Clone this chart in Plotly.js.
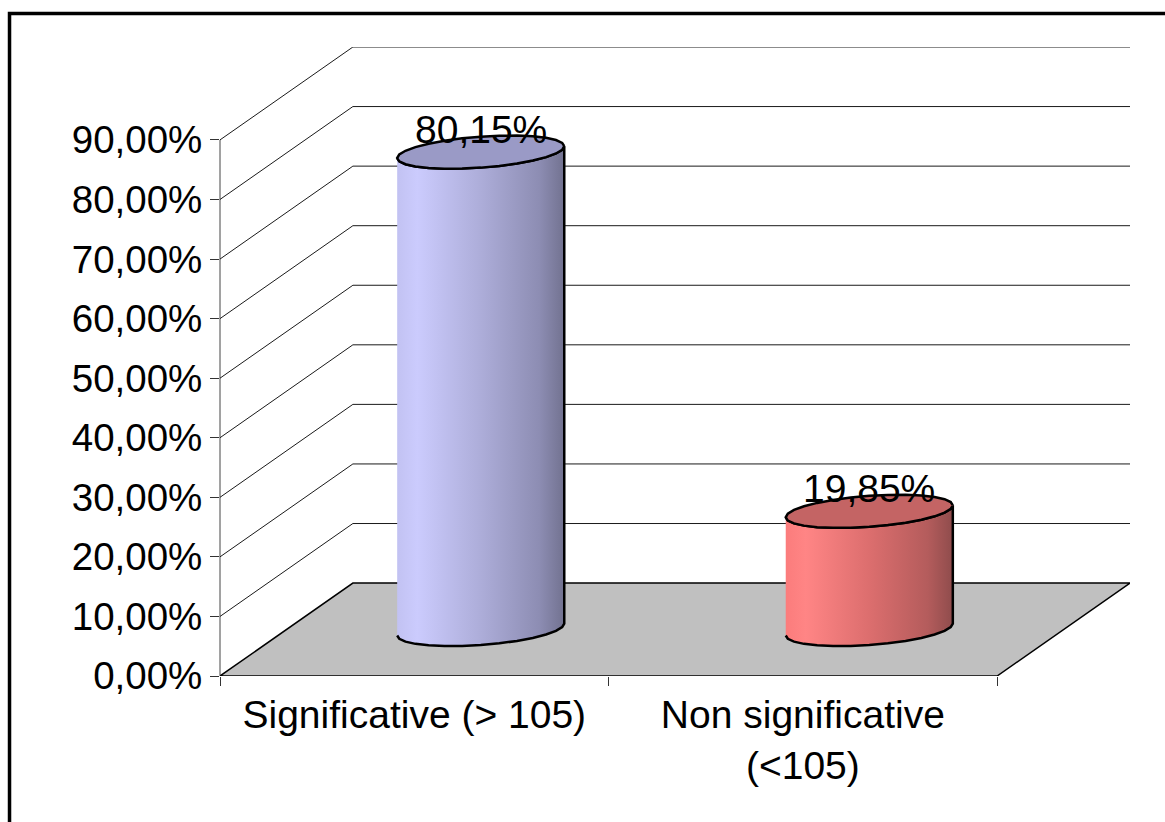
<!DOCTYPE html>
<html>
<head>
<meta charset="utf-8">
<script src="https://cdn.plot.ly/plotly-3.0.1.min.js"></script>
<style>
  html, body { margin: 0; padding: 0; background: #ffffff; }
  #chart { width: 1165px; height: 822px; }
</style>
</head>
<body>
<div id="chart"></div>
<script>
// Chart data
const categories = ['Significative (> 105)', 'Non significative (<105)'];
const categoryLabels = ['Significative (> 105)', 'Non significative<br>(&lt;105)'];
const shares = [80.15, 19.85];
const gridValues = [0, 10, 20, 30, 40, 50, 60, 70, 80, 90];

// Colours of the two cylinders (side gradient, left to right, and lid)
const sideScales = [
  [[0, '#c2c2f2'], [0.12, '#cbcbfd'], [0.5, '#adadd9'], [0.85, '#8d8db3'], [1, '#727290']],
  [[0, '#fb7c7c'], [0.12, '#ff8585'], [0.5, '#dc6e6e'], [0.85, '#b45c5c'], [1, '#8f4c4c']]
];
const lidColors = ['#9a9ac6', '#c46464'];

// 3-D box geometry, in axis units (categories along x, percent along y)
const depthX = 0.342;          // horizontal shift of the back wall
const depthY = 15.6;           // vertical shift of the back wall
const xMax = categories.length + depthX;
const yMax = gridValues[gridValues.length - 1] + depthY;
const radiusX = 0.215;         // cylinder half width
const radiusY = 2.6;           // cylinder ellipse half height
const tilt = 1.0;              // perspective tilt of the ellipses

const FONT = 'Liberation Sans, Arial, sans-serif';

function ellipseArc(cx, cy, t0, t1, n) {
  const xs = [], ys = [];
  for (let k = 0; k <= n; k++) {
    const t = t0 + (t1 - t0) * k / n;
    xs.push(cx + radiusX * Math.cos(t));
    ys.push(cy - radiusY * Math.sin(t) + tilt * Math.cos(t));
  }
  return { xs, ys };
}

const traces = [];
shares.forEach((v, i) => {
  const cx = i + 0.5 + depthX / 2;
  const yBase = depthY / 2;
  const yTop = v + depthY / 2;
  // body: front arc of the base, then front arc of the lid reversed
  const base = ellipseArc(cx, yBase, Math.PI, 0, 14);
  const lidFront = ellipseArc(cx, yTop, 0, Math.PI, 14);
  traces.push({
    type: 'scatter', mode: 'lines', fill: 'toself',
    x: base.xs.concat(lidFront.xs), y: base.ys.concat(lidFront.ys),
    line: { color: '#000000', width: 2.5 },
    fillgradient: { type: 'horizontal', colorscale: sideScales[i] },
    hoverinfo: 'skip', showlegend: false
  });
  const lid = ellipseArc(cx, yTop, 0, 2 * Math.PI, 28);
  traces.push({
    type: 'scatter', mode: 'lines', fill: 'toself',
    x: lid.xs, y: lid.ys,
    line: { color: '#000000', width: 2.5 },
    fillcolor: lidColors[i],
    hoverinfo: 'skip', showlegend: false
  });
});

// Walls, floor and frame
const shapes = [];
// floor
shapes.push({
  type: 'path', xref: 'x', yref: 'y', layer: 'below',
  path: `M 0 0 L ${depthX} ${depthY} L ${categories.length + depthX} ${depthY} L ${categories.length} 0 Z`,
  fillcolor: '#c0c0c0', line: { color: '#000000', width: 1.5 }
});
// gridlines on side and back walls
gridValues.forEach(g => {
  if (g > 0) {
    shapes.push({
      type: 'line', xref: 'x', yref: 'y', layer: 'below',
      x0: 0, y0: g, x1: depthX, y1: g + depthY,
      line: { color: '#1a1a1a', width: 1 }
    });
    shapes.push({
      type: 'line', xref: 'x', yref: 'y', layer: 'below',
      x0: depthX, y0: g + depthY, x1: xMax, y1: g + depthY,
      line: { color: '#1a1a1a', width: 1 }
    });
  }
});
// front value axis line
shapes.push({
  type: 'line', xref: 'paper', yref: 'y', layer: 'below',
  x0: 0, x1: 0, y0: 0, y1: gridValues[gridValues.length - 1],
  line: { color: '#444444', width: 1 }
});
// outer frame
shapes.push({
  type: 'rect', xref: 'paper', yref: 'paper', layer: 'above',
  x0: -0.2313, x1: 1.2, y0: -0.5, y1: 1.0533,
  line: { color: '#000000', width: 3.5 }, fillcolor: 'rgba(0,0,0,0)'
});

const fmt = v => v.toFixed(2).replace('.', ',') + '%';
const annotations = shares.map((v, i) => ({
  xref: 'x', yref: 'y', x: i + 0.5 + depthX / 2, y: v + depthY / 2,
  yshift: 23, text: fmt(v), showarrow: false,
  font: { family: FONT, size: 39, color: '#000000' },
  xanchor: 'center', yanchor: 'middle'
}));

const layout = {
  width: 1165, height: 822,
  margin: { l: 220, r: 35, t: 47, b: 146, pad: 0 },
  paper_bgcolor: '#ffffff', plot_bgcolor: 'rgba(0,0,0,0)',
  showlegend: false,
  font: { family: FONT, color: '#000000' },
  xaxis: {
    range: [0, xMax], fixedrange: true,
    tickmode: 'array', tickvals: categories.map((c, i) => i).concat([categories.length]),
    ticks: 'outside', ticklen: 9, tickcolor: '#333333', tickwidth: 1,
    showticklabels: false, showgrid: false, zeroline: false, showline: false
  },
  xaxis2: {
    overlaying: 'x', anchor: 'y', side: 'bottom',
    range: [0, xMax], fixedrange: true,
    tickmode: 'array', tickvals: categories.map((c, i) => i + 0.5), ticktext: categoryLabels,
    ticks: '', ticklabelstandoff: 12,
    tickfont: { family: FONT, size: 39, color: '#000000' },
    showgrid: false, zeroline: false, showline: false
  },
  yaxis: {
    range: [0, yMax], fixedrange: true,
    tickmode: 'array', tickvals: gridValues, ticktext: gridValues.map(fmt),
    ticks: 'outside', ticklen: 9, tickcolor: '#333333', tickwidth: 1,
    tickfont: { family: FONT, size: 38.5, color: '#000000' },
    showgrid: false, zeroline: false, showline: false
  },
  shapes: shapes,
  annotations: annotations
};

// a transparent trace on the overlaid axis so its tick labels are drawn
traces.push({
  type: 'scatter', mode: 'markers', xaxis: 'x2', yaxis: 'y',
  x: [0.5], y: [0], marker: { opacity: 0 }, hoverinfo: 'skip', showlegend: false
});

Plotly.newPlot('chart', traces, layout, { staticPlot: true, displayModeBar: false });
</script>
</body>
</html>
